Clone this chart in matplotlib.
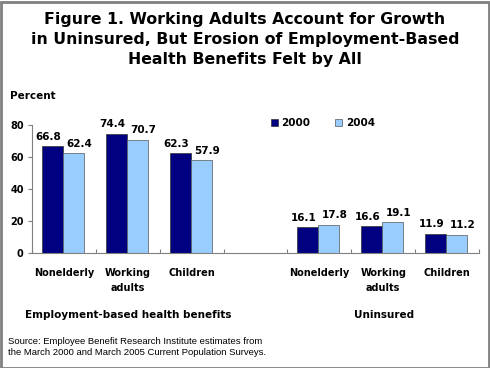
import matplotlib
matplotlib.use("Agg")
import matplotlib.pyplot as plt
import numpy as np
from matplotlib.patches import Rectangle

categories = ["Nonelderly", "Working\nadults", "Children", "", "Nonelderly", "Working\nadults", "Children"]
vals_2000 = [66.8, 74.4, 62.3, np.nan, 16.1, 16.6, 11.9]
vals_2004 = [62.4, 70.7, 57.9, np.nan, 17.8, 19.1, 11.2]
series_names = ["2000", "2004"]
y_ticks = [0, 20, 40, 60, 80]
group_labels = ["Employment-based health benefits", "Uninsured"]
title_lines = ["Figure 1. Working Adults Account for Growth",
               "in Uninsured, But Erosion of Employment-Based",
               "Health Benefits Felt by All"]
source = ("Source: Employee Benefit Research Institute estimates from\n"
          "the March 2000 and March 2005 Current Population Surveys.")

dark = "#000080"
light = "#99CCFF"
W, H = 490, 368
fig = plt.figure(figsize=(W / 100, H / 100), dpi=100)
fig.patch.set_facecolor("white")

lbl_font = dict(family="DejaVu Sans", weight="bold")

ax = fig.add_axes([32 / W, (H - 253) / H, (479 - 32) / W, 128 / H])
n = len(categories)
x = np.arange(n)
bw = 21 / 64
off = 10 / 64
b1 = ax.bar(x - 0.5 + off, vals_2000, width=bw, align="edge", color=dark,
            edgecolor="#333333", linewidth=0.5, label=series_names[0])
b2 = ax.bar(x - 0.5 + off + bw, vals_2004, width=bw, align="edge", color=light,
            edgecolor="#555555", linewidth=0.5, label=series_names[1])
for bars, vals, dx in ((b1, vals_2000, -4 / 64), (b2, vals_2004, 6 / 64)):
    for r, v in zip(bars, vals):
        if np.isnan(v):
            continue
        ax.text(r.get_x() + r.get_width() / 2 + dx, v + 6, f"{v:.1f}", ha="center",
                va="center", fontsize=7.5, clip_on=False, **lbl_font)

ax.set_xlim(-0.5, n - 0.5)
ax.set_ylim(0, 80)
ax.set_yticks(y_ticks)
ax.set_yticklabels([str(t) for t in y_ticks], fontsize=7, **lbl_font)
ax.set_xticks(np.arange(n + 1) - 0.5, minor=False)
ax.set_xticklabels([])
ax.tick_params(axis="x", direction="in", length=3, width=0.8, color="#808080")
ax.tick_params(axis="y", direction="out", length=3, width=0.8, color="#808080", pad=3)
for s in ("top", "right"):
    ax.spines[s].set_visible(False)
ax.spines["left"].set_color("#808080")
ax.spines["bottom"].set_color("#808080")
ax.spines["left"].set_linewidth(0.8)
ax.spines["bottom"].set_linewidth(0.8)

for i, c in enumerate(categories):
    if c:
        ax.text(i, -9.5, c, ha="center", va="top", fontsize=7, linespacing=1.65,
                transform=ax.transData, clip_on=False, **lbl_font)

fig.text(128 / W, 1 - 315 / H, group_labels[0], ha="center", va="center", fontsize=7.5, **lbl_font)
fig.text(384 / W, 1 - 315 / H, group_labels[1], ha="center", va="center", fontsize=7.5, **lbl_font)

for k, line in enumerate(title_lines):
    fig.text(245 / W, 1 - (18 + 20 * k) / H, line, ha="center", va="center_baseline",
             fontsize=11.3, **lbl_font)
fig.text(10 / W, 1 - 96 / H, "Percent", ha="left", va="center", fontsize=7.5, **lbl_font)
fig.text(8 / W, 1 - 347 / H, source, ha="left", va="center", fontsize=6.8,
         family="Liberation Sans", linespacing=1.3)

leg = fig.legend(handles=[b1, b2], labels=series_names, loc="center left",
                 bbox_to_anchor=(271 / W, 1 - 123 / H), ncol=2, frameon=False,
                 prop=dict(family="DejaVu Sans", weight="bold", size=7.5),
                 handlelength=0.65, handleheight=0.65, handletextpad=0.35,
                 columnspacing=2.4, borderaxespad=0, borderpad=0)

fig.add_artist(Rectangle((0.5 / W, 0.5 / H), 1 - 2 / W, 1 - 2 / H, transform=fig.transFigure,
                         fill=False, edgecolor="#808080", linewidth=2))

fig.savefig("out.png", dpi=100)
